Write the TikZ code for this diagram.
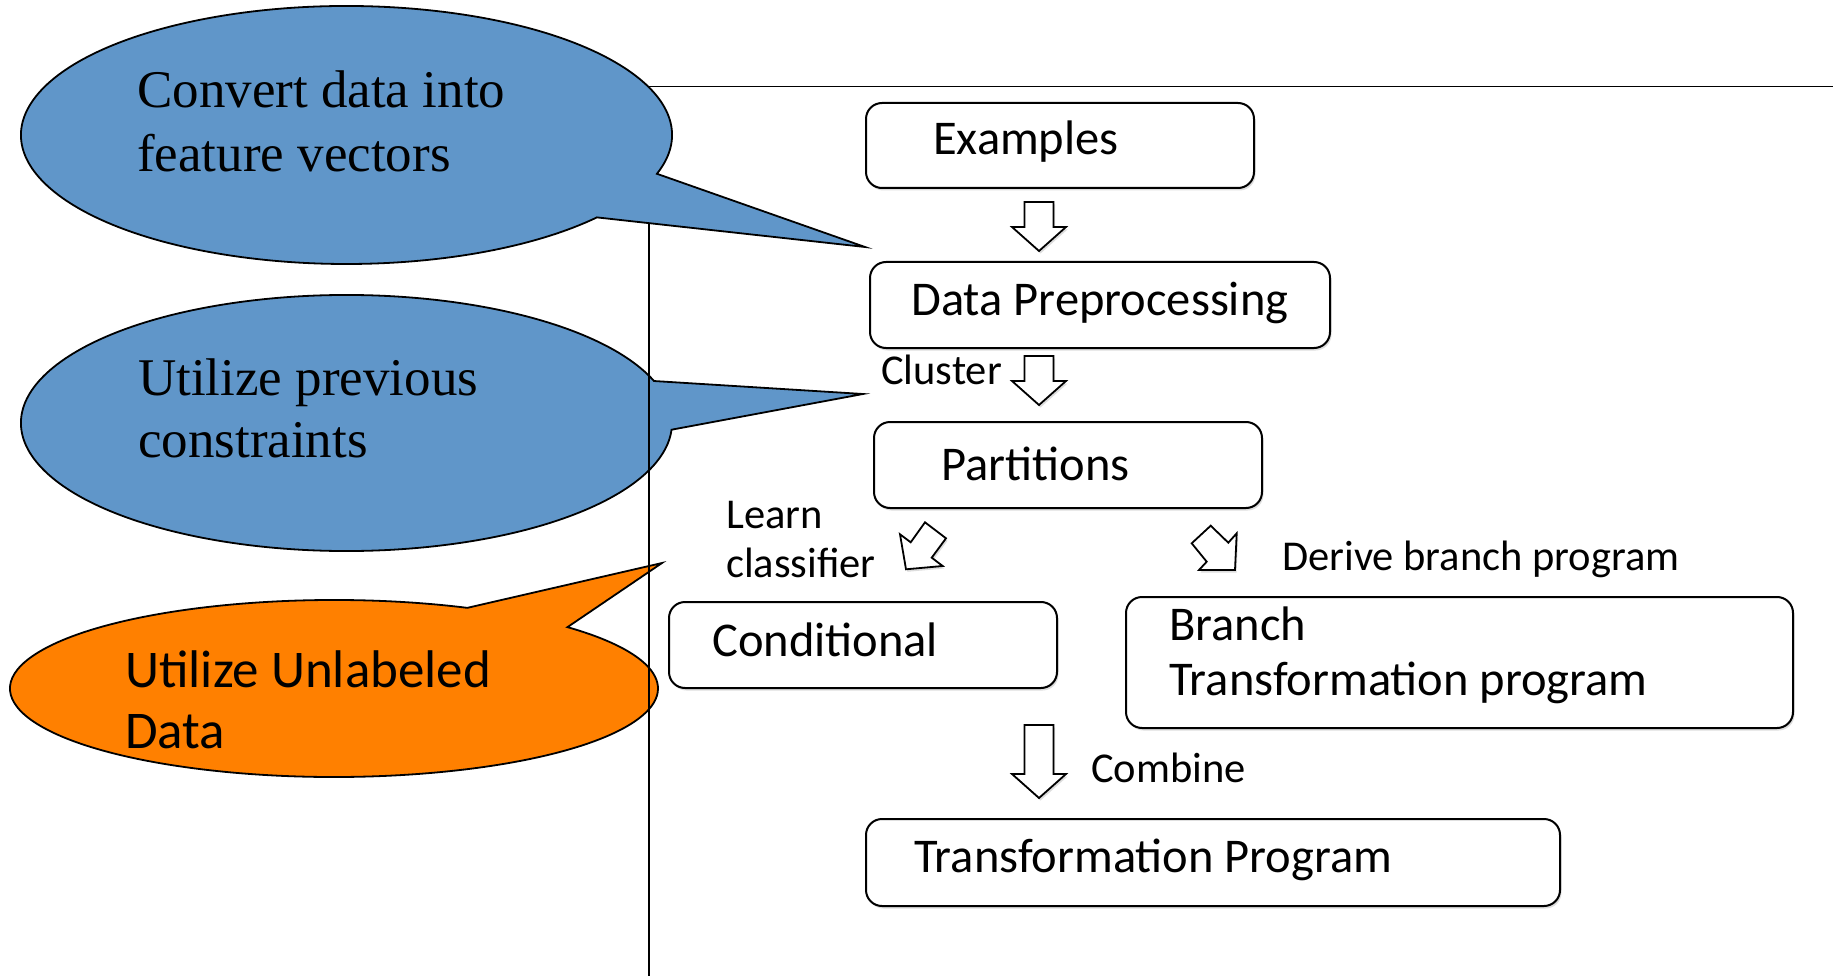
\documentclass[tikz,border=0pt]{standalone}
\usepackage{fontspec}
\setmainfont{Carlito}
\newfontfamily\timesf{Liberation Serif}
\usetikzlibrary{shadows}
\definecolor{cblue}{RGB}{96,150,201}
\definecolor{corange}{RGB}{255,128,0}
\begin{document}
\begin{tikzpicture}[x=1pt,y=1pt,
  softshadow/.style={drop shadow={shadow xshift=1.5pt, shadow yshift=-2.5pt, opacity=0.22, fill=black!60}},
  box/.style={draw, line width=2pt, rounded corners=16pt, fill=white, softshadow, inner sep=0pt, anchor=north west},
  boxtext/.style={anchor=base west, inner sep=0pt, align=left, font=\fontsize{48.5}{55}\selectfont},
  lab/.style={anchor=base west, inner sep=0pt, align=left, font=\fontsize{42.5}{49}\selectfont},
  barrow/.style={draw, line width=1.8pt, fill=white, line join=miter, softshadow},
  callout/.style={draw, line width=1.8pt, line join=miter},
  ctext/.style={anchor=base west, inner sep=0pt, align=left},
  framel/.style={line width=1.8pt},
  pics/downarr/.style={code={
    \draw[barrow] (-14.5,0) -- (14.5,0) -- (14.5,-#1) -- (27,-#1) -- (0,-#1-24) -- (-27,-#1) -- (-14.5,-#1) -- cycle;}}
]
\useasboundingbox[fill=white] (0,0) rectangle (1833,-976);

% callouts under the frame
\draw[callout, fill=cblue] (346.5,-423) ++(19.15:325.5 and 128)
  arc[start angle=19.15, end angle=357, x radius=325.5, y radius=128] -- (863,-394) -- cycle;
\node[ctext, font=\timesf\fontsize{53}{62}\selectfont] (t2) at (138,-457) {Utilize previous\\constraints};

\draw[callout, fill=corange] (334,-688.5) ++(65.7:324 and 88.5)
  arc[start angle=65.7, end angle=403.9, x radius=324, y radius=88.5] -- (662,-563) -- cycle;
\node[ctext, font=\fontsize{53}{61}\selectfont] (t3) at (125,-748) {Utilize Unlabeled\\Data};

% frame
\coordinate (fa) at (646,-86.5);
\coordinate (fb) at (1833,-86.5);
\coordinate (fc) at (649,-86.5);
\coordinate (fd) at (649,-976);
\draw[framel] (fa) -- (fb);
\draw[framel] (fc) -- (fd);

% first callout on top
\draw[callout, fill=cblue] (346.5,-135) ++(-17.5:325.5 and 129)
  arc[start angle=-17.5, end angle=320.3, x radius=325.5, y radius=129] -- (865,-247) -- cycle;
\node[ctext, font=\timesf\fontsize{53}{64}\selectfont] (t1) at (137,-172) {Convert data into\\feature vectors};

% boxes
\node[box, minimum width=388pt, minimum height=85pt] (ex) at (865,-102) {};
\node[box, minimum width=460pt, minimum height=86pt] (dp) at (869,-261) {};
\node[box, minimum width=388pt, minimum height=86pt] (pa) at (873,-421) {};
\node[box, minimum width=388pt, minimum height=86pt] (co) at (668,-601) {};
\node[box, minimum width=667pt, minimum height=131pt] (br) at (1125,-596) {};
\node[box, minimum width=694pt, minimum height=87pt] (tp) at (865,-818) {};

\node[boxtext] (exT) at (933,-155) {Examples};
\node[boxtext] (dpT) at (911,-315) {Data Preprocessing};
\node[boxtext] (paT) at (941,-480) {Partitions};
\node[boxtext] (coT) at (712,-656) {Conditional};
\node[boxtext] (brT) at (1169,-695) {Branch\\Transformation program};
\node[boxtext] (tpT) at (914,-872) {Transformation Program};

% block arrows
\pic at (1039,-202) {downarr=25};
\pic at (1039,-356) {downarr=25};
\pic at (1039,-725) {downarr=49};
\draw[barrow] (925,-522.3) -- (946,-538.3) -- (931.7,-557.7) -- (942.7,-566) -- (906,-569.3) -- (900,-534.3) -- (910.7,-542.3) -- cycle;
\draw[barrow] (1210.7,-525.7) -- (1191.7,-543.3) -- (1206.7,-561.7) -- (1199,-570) -- (1235,-570) -- (1236.7,-533.3) -- (1228.3,-542.7) -- cycle;

% labels
\node[lab] (lc) at (881,-384) {Cluster};
\node[lab] (ll) at (726,-577) {Learn\\classifier};
\node[lab] (ld) at (1282,-570) {Derive branch program};
\node[lab] (lm) at (1091,-782) {Combine};
\end{tikzpicture}
\end{document}
